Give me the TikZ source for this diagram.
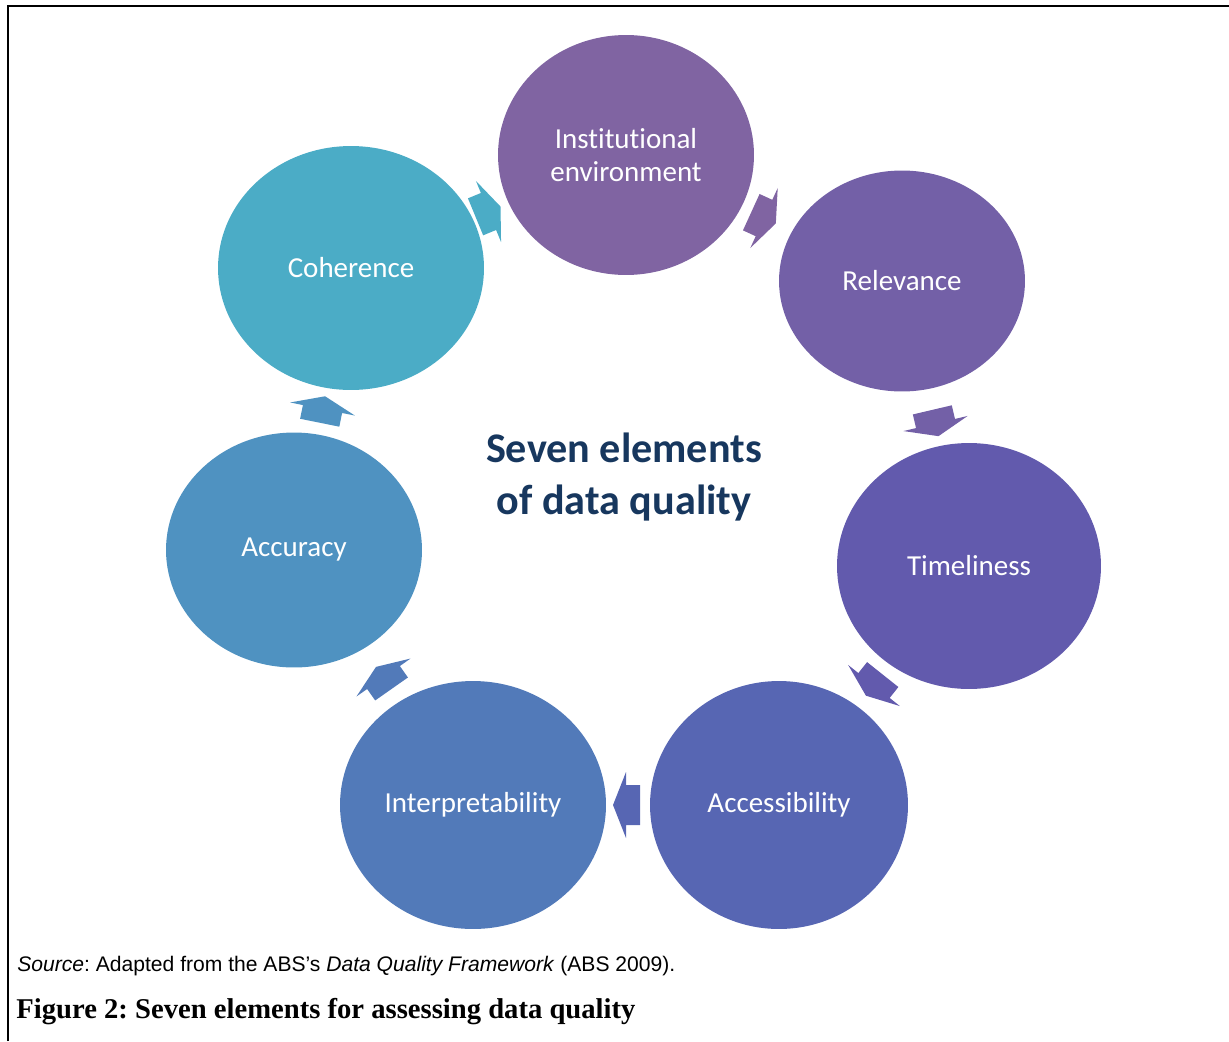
\documentclass[tikz,border=0pt]{standalone}
\usepackage{fontspec}
\setmainfont{Liberation Serif}
\setsansfont{Liberation Sans}
\newfontfamily\calibri[Ligatures=NoCommon]{Carlito}
\usepackage{tikz}
\usetikzlibrary{calc, shapes.geometric}
\frenchspacing

\definecolor{cinst}{HTML}{8064A2}
\definecolor{crel}{HTML}{7360A7}
\definecolor{ctime}{HTML}{625AAD}
\definecolor{cacces}{HTML}{5766B3}
\definecolor{cinterp}{HTML}{527AB9}
\definecolor{caccur}{HTML}{4F92C1}
\definecolor{ccoh}{HTML}{4BACC6}
\definecolor{navy}{HTML}{17375E}

\tikzstyle{elem} = [ellipse, inner sep=0pt, text=white, align=center,
  font=\calibri\fontsize{16.5}{19}\selectfont]
\tikzstyle{headline} = [align=center, text=navy,
  font=\calibri\bfseries\fontsize{24}{29.5}\selectfont]
\tikzset{cyc/.pic={
    \fill (-14,-20) -- (0,-20) -- (0,-33) -- (13,0) -- (0,33) -- (0,20) -- (-14,20) -- cycle;
  }}
% block arrow half way between two elements
\newcommand{\cyclearrow}[3]{%
  \path let \p1 = ($(#2)-(#1)$), \n1 = {atan2(\y1,\x1)} in
    ($(#1)!0.5!(#2)$) pic[fill=#3, rotate=\n1] {cyc};}

\begin{document}
\begin{tikzpicture}[x=0.02cm, y=-0.02cm]
        \useasboundingbox (0,0) rectangle (1229,1041);
        \draw[line width=1.2pt] (8,1041) -- (8,6) -- (1229,6);

        \node (inst) [elem, fill=cinst, minimum width=5.12cm, minimum height=4.8cm] at (626,155) {Institutional\\environment};
        \node (rel) [elem, fill=crel, minimum width=4.92cm, minimum height=4.42cm] at (902,281) {Relevance};
        \node (time) [elem, fill=ctime, minimum width=5.28cm, minimum height=4.92cm] at (969,566) {Timeliness};
        \node (acces) [elem, fill=cacces, minimum width=5.16cm, minimum height=4.96cm] at (779,805) {Accessibility};
        \node (interp) [elem, fill=cinterp, minimum width=5.32cm, minimum height=4.96cm] at (473,805) {Interpretability};
        \node (accur) [elem, fill=caccur, minimum width=5.12cm, minimum height=4.7cm] at (294,550) {Accuracy};
        \node (coh) [elem, fill=ccoh, minimum width=5.32cm, minimum height=4.88cm] at (351,268) {Coherence};

        \node (centre) [headline] at (624,477) {Seven elements\\of data quality};

        \cyclearrow{inst}{rel}{cinst}
        \cyclearrow{rel}{time}{crel}
        \cyclearrow{time}{acces}{ctime}
        \cyclearrow{acces}{interp}{cacces}
        \cyclearrow{interp}{accur}{cinterp}
        \cyclearrow{accur}{coh}{caccur}
        \cyclearrow{coh}{inst}{ccoh}

        %    caption
        \node (source) [anchor=base west, inner sep=0pt, font=\sffamily\fontsize{12}{14}\selectfont] at (17,971)
            {\textit{Source}: Adapted from the ABS’s \textit{Data Quality Framework} (ABS 2009).};
        \node (figcap) [anchor=base west, inner sep=0pt, font=\bfseries\fontsize{16.3}{19}\selectfont] at (16,1018)
            {Figure 2: Seven elements for assessing data quality};
    \end{tikzpicture}
\end{document}
